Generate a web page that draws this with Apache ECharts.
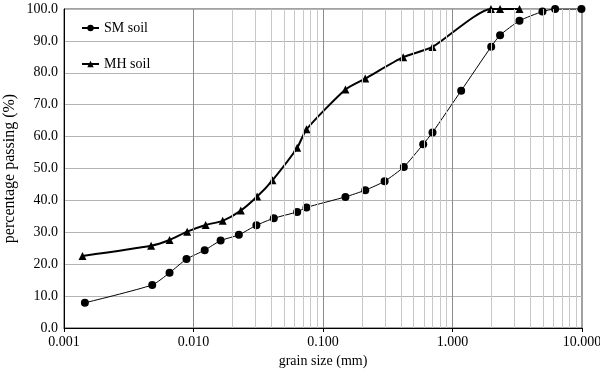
<!DOCTYPE html>
<html><head><meta charset="utf-8">
<script src="https://cdn.jsdelivr.net/npm/echarts@6/dist/echarts.min.js"></script>
<style>html,body{margin:0;padding:0;background:#fff}#c{width:600px;height:370px}</style>
</head><body><div id="c"></div>
<script>
var smSize = [0.00145, 0.0048, 0.00653, 0.00883, 0.0122, 0.0162, 0.0224, 0.0306, 0.0417, 0.0632, 0.0746, 0.149, 0.212, 0.299, 0.421, 0.594, 0.701, 1.167, 1.99, 2.33, 3.29, 4.95, 6.2, 9.9];
var smPass = [7.9, 13.5, 17.3, 21.6, 24.4, 27.4, 29.2, 32.2, 34.4, 36.4, 37.8, 41.1, 43.2, 46.0, 50.5, 57.6, 61.3, 74.4, 88.2, 91.8, 96.3, 99.2, 100, 100];
var mhSize = [0.00139, 0.00471, 0.00653, 0.00894, 0.0124, 0.0168, 0.0232, 0.031, 0.0407, 0.0632, 0.0746, 0.149, 0.212, 0.416, 0.701, 1.98, 2.33, 3.29];
var mhPass = [22.6, 25.8, 27.6, 30.2, 32.3, 33.6, 36.8, 41.2, 46.3, 56.5, 62.3, 74.8, 78.2, 84.9, 88.1, 100, 100, 100];
var xTickLabels = ['0.001', '0.010', '0.100', '1.000', '10.000'];
var seriesNames = ['SM soil', 'MH soil'];

var FONT = '"Liberation Serif", "DejaVu Serif", serif';
function pairs(a, b) { return a.map(function (v, i) { return [v, b[i]]; }); }
var minorLines = [], majorLines = [];
for (var d = -3; d <= 0; d++) {
  var base = Math.pow(10, d);
  for (var k = 2; k <= 9; k++) minorLines.push({ xAxis: k * base });
  if (d > -3) majorLines.push({ xAxis: base });
}
var chart = echarts.init(document.getElementById('c'));
chart.setOption({
  animation: false,
  grid: { left: 64, right: 18, top: 9, bottom: 42, show: true, borderColor: '#444', borderWidth: 1,
    containLabel: false, outerBoundsMode: 'none' },
  legend: {
    orient: 'vertical', left: 76, top: 16, itemGap: 22, itemWidth: 17, itemHeight: 8,
    textStyle: { fontFamily: FONT, fontSize: 14, color: '#000' },
    data: seriesNames
  },
  xAxis: {
    type: 'log', logBase: 10, min: 0.001, max: 10,
    name: 'grain size (mm)', nameLocation: 'middle', nameGap: 23,
    nameTextStyle: { fontFamily: FONT, fontSize: 14, color: '#000' },
    axisLine: { lineStyle: { color: '#000' } },
    axisTick: { show: true, inside: false, length: 4, lineStyle: { color: '#000' } },
    axisLabel: { fontFamily: FONT, fontSize: 14, color: '#000', margin: 7,
      formatter: function (v) { var i = Math.round(Math.log10(v)) + 3; return xTickLabels[i]; } },
    splitLine: { show: false }
  },
  yAxis: {
    type: 'value', min: 0, max: 100, interval: 10,
    name: 'percentage passing (%)', nameLocation: 'middle', nameGap: 46, nameMoveOverlap: false,
    nameTextStyle: { fontFamily: FONT, fontSize: 16, color: '#000' },
    axisLine: { show: true, lineStyle: { color: '#000' } },
    axisTick: { show: false },
    axisLabel: { fontFamily: FONT, fontSize: 14, color: '#000', margin: 6,
      formatter: function (v) { return v.toFixed(1); } },
    splitLine: { show: true, lineStyle: { color: '#b4b4b4', width: 1 } }
  },
  series: [
    {
      name: 'grid', type: 'line', data: [], silent: true,
      markLine: { silent: true, symbol: 'none', label: { show: false },
        lineStyle: { color: '#c8c8c8', type: 'solid', width: 1 }, data: minorLines }
    },
    {
      name: 'gridMajor', type: 'line', data: [], silent: true,
      markLine: { silent: true, symbol: 'none', label: { show: false },
        lineStyle: { color: '#8c8c8c', type: 'solid', width: 1 }, data: majorLines }
    },
    {
      name: seriesNames[0], type: 'line', data: pairs(smSize, smPass), smooth: 0.2,
      symbol: 'circle', symbolSize: 8, itemStyle: { color: '#000' },
      lineStyle: { color: '#000', width: 1 }
    },
    {
      name: seriesNames[1], type: 'line', data: pairs(mhSize, mhPass), smooth: 0.2,
      symbol: 'triangle', symbolSize: 8, itemStyle: { color: '#000' },
      lineStyle: { color: '#000', width: 2 }
    }
  ]
});
</script></body></html>
